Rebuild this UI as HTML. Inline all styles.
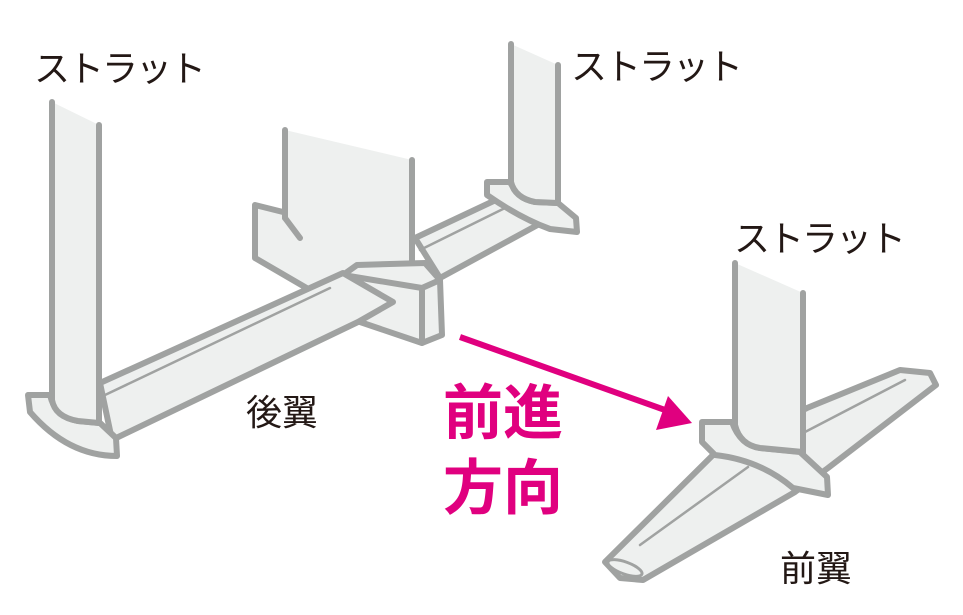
<!DOCTYPE html>
<html><head><meta charset="utf-8"><style>
html,body{margin:0;padding:0;background:#fff;}
svg{display:block;}
</style></head><body>
<svg width="963" height="615" viewBox="0 0 963 615" xmlns="http://www.w3.org/2000/svg">
<g fill="#eef0ef" stroke="#a0a2a1" stroke-width="6" stroke-linejoin="round" stroke-linecap="round">
  <polygon points="415,238 500,198 543,222 440,278"/>
  <line x1="420" y1="250" x2="505" y2="208" stroke-width="2.5"/>
  <path d="M487,182 L511,182 Q515,198 535,202 L558,203 L576,218 L577,232 L550,229 Q520,218 487,195 Z"/>
  <path d="M511,44 L558,65 L558,202 L535,202 Q515,198 511,182 Z" stroke="none"/>
  <polygon points="255,205 255,258 310,290 360,275 410,277 412,262 283,212"/>
  <polygon points="285,130 412,160 412,277 357,267 300,238 285,218" stroke="none"/>
  <line x1="285" y1="130" x2="285" y2="218"/>
  <line x1="285" y1="218" x2="300" y2="238"/>
  <line x1="412" y1="160" x2="412" y2="277"/>
  <line x1="357" y1="267" x2="410" y2="277"/>
  <polygon points="343,275 357,265 425,263 440,280 442,335 422,343 360,322"/>
  <polyline points="343,275 422,288 440,280" fill="none"/>
  <line x1="422" y1="288" x2="422" y2="343"/>
  <polygon points="100,383 343,273 393,302 358,322 112,440"/>
  <line x1="105" y1="395" x2="330" y2="288" stroke-width="2.5"/>
  <path d="M28,395 L50,395 Q55,417 78,421 L100,423 L116,438 L117,456 Q68,456 30,412 Z"/>
  <path d="M52,102 L99,125 L99,423 L78,421 Q55,417 52,400 Z" stroke="none"/>
  <path d="M52,400 Q55,417 78,421 L99,423" fill="none"/>
  <line x1="52" y1="102" x2="52" y2="400"/>
  <line x1="99" y1="125" x2="99" y2="423"/>
  <polygon points="605,562 715,453 807,408 900,370 930,373 936,385 828,468 795,492 643,580 620,578"/>
  <line x1="805" y1="432" x2="905" y2="380" stroke-width="2.5"/>
  <line x1="640" y1="545" x2="748" y2="467" stroke-width="2.5"/>
  <ellipse cx="625" cy="568" rx="18" ry="6" transform="rotate(20 625 568)" stroke-width="3"/>
  <path d="M702,422 L732,422 Q740,445 760,448 L800,452 L827,477 L828,495 L793,488 Q760,460 715,455 L702,442 Z"/>
  <path d="M735,263 L803,293 L803,452 L760,448 Q740,445 735,425 Z" stroke="none"/>
  <path d="M735,425 Q740,445 760,448 L803,452" fill="none"/>
  <path d="M511,182 Q515,198 535,202 L558,203" fill="none"/>
  <line x1="735" y1="263" x2="735" y2="425"/>
  <line x1="803" y1="293" x2="803" y2="453"/>
  <line x1="511" y1="44" x2="511" y2="184"/>
  <line x1="558" y1="65" x2="558" y2="203"/>
</g>
<line x1="460" y1="337" x2="665" y2="410" stroke="#e0007f" stroke-width="6"/>
<polygon points="692,423 668,396 656,430" fill="#e0007f"/>
<g font-family="'Liberation Sans','Noto Sans CJK JP',sans-serif" fill="#231815">
  <text x="34" y="81" font-size="36" letter-spacing="-2">ストラット</text>
  <text x="571" y="79" font-size="36" letter-spacing="-2">ストラット</text>
  <text x="734" y="251" font-size="36" letter-spacing="-2">ストラット</text>
  <text x="246" y="425" font-size="36">後翼</text>
  <text x="780" y="581" font-size="36">前翼</text>
</g>
<g font-family="'Liberation Sans','Noto Sans CJK JP',sans-serif" fill="#e0007f" font-weight="bold" font-size="60">
  <text x="443" y="434">前進</text>
  <text x="443" y="509">方向</text>
</g>
</svg>
</body></html>
